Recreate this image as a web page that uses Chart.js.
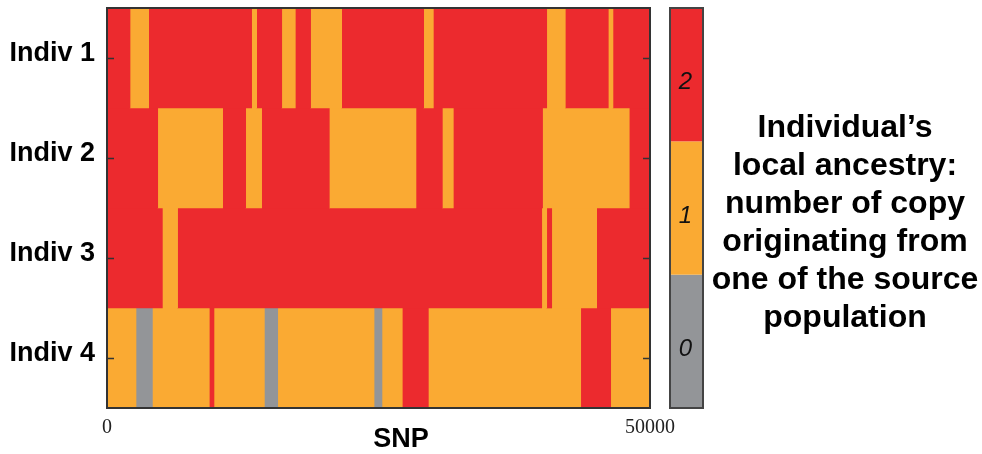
<!DOCTYPE html>
<html>
<head>
<meta charset="utf-8">
<script src="https://cdn.jsdelivr.net/npm/chart.js@4.4.1/dist/chart.umd.min.js"></script>
<style>
  body { margin: 0; background: #fff; }
  #wrap { position: relative; width: 982px; height: 454px; }
  #legendText {
    position: absolute; left: 703px; top: 107px; width: 284px;
    text-align: center; font-family: "Liberation Sans", Arial, sans-serif;
    font-weight: bold; font-size: 32px; line-height: 38px; color: #000;
  }
</style>
</head>
<body>
<div id="wrap">
  <canvas id="myChart" width="982" height="454"></canvas>
  <div id="legendText">Individual’s<br>local ancestry:<br>number of copy<br>originating from<br>one of the source<br>population</div>
</div>
<script>
// individus (lignes)
const indivs = ['Indiv 1', 'Indiv 2', 'Indiv 3', 'Indiv 4']

// bornes des segments (SNP) et nombre de copies pour chaque individu
const indiv1Breaks = [0, 2120, 3840, 13320, 13780, 16090, 17340, 18750, 21610, 29160, 30050, 40490, 42200, 46160, 46590, 50000]
const indiv1Copies = [2, 1, 2, 1, 2, 1, 2, 1, 2, 1, 2, 1, 2, 1, 2]

const indiv2Breaks = [0, 4670, 10650, 12770, 14240, 20470, 28450, 30880, 31890, 40110, 48090, 50000]
const indiv2Copies = [2, 1, 2, 1, 2, 1, 2, 1, 2, 1, 2]

const indiv3Breaks = [0, 5100, 6500, 40030, 40490, 40950, 45090, 50000]
const indiv3Copies = [2, 1, 2, 1, 2, 1, 2]

const indiv4Breaks = [0, 2670, 4180, 9420, 9850, 14490, 15720, 24590, 25320, 27190, 29590, 43620, 46380, 50000]
const indiv4Copies = [1, 0, 1, 2, 1, 0, 1, 0, 1, 2, 1, 2, 1]

// echelle de couleur
const copyLevels = [0, 1, 2]
const copyColors = ['#939598', '#FAAA33', '#EC2A2E']
const xTicks = [0, 50000]

const allBreaks = [indiv1Breaks, indiv2Breaks, indiv3Breaks, indiv4Breaks]
const allCopies = [indiv1Copies, indiv2Copies, indiv3Copies, indiv4Copies]

// un dataset par segment (barres flottantes)
const datasets = []
allBreaks.forEach((breaks, row) => {
  allCopies[row].forEach((c, i) => {
    let d = indivs.map(() => null)
    d[row] = [breaks[i], breaks[i + 1]]
    datasets.push({
      data: d,
      backgroundColor: copyColors[c],
      borderWidth: 0,
      barPercentage: 1,
      categoryPercentage: 1,
      grouped: false
    })
  })
})

// cadre, petits ticks, barre de couleur, titre x
const decor = {
  id: 'decor',
  afterDraw(chart) {
    const ctx = chart.ctx
    const a = chart.chartArea
    const yS = chart.scales.y
    ctx.save()
    ctx.strokeStyle = '#333'
    ctx.lineWidth = 2
    ctx.strokeRect(a.left, a.top, a.right - a.left, a.bottom - a.top)
    ctx.lineWidth = 1.5
    indivs.forEach((n, i) => {
      let y = Math.round(yS.getPixelForValue(i)) + 0.5
      ctx.beginPath()
      ctx.moveTo(a.left, y); ctx.lineTo(a.left + 7, y)
      ctx.moveTo(a.right, y); ctx.lineTo(a.right - 7, y)
      ctx.stroke()
    })

    // colorbar
    const cbL = 670, cbR = 703, cbT = 8, cbB = 408
    const h = (cbB - cbT) / copyLevels.length
    copyLevels.forEach((lv, i) => {
      let top = cbB - (i + 1) * h
      ctx.fillStyle = copyColors[i]
      ctx.fillRect(cbL, top, cbR - cbL, h)
      ctx.fillStyle = '#111'
      ctx.font = 'italic 24px "Liberation Sans", Arial, sans-serif'
      ctx.textAlign = 'center'
      ctx.textBaseline = 'middle'
      ctx.fillText(String(lv), (cbL + cbR) / 2 - 1, top + h / 2 + 8)
    })
    ctx.strokeStyle = '#444'
    ctx.lineWidth = 2
    ctx.strokeRect(cbL, cbT, cbR - cbL, cbB - cbT)

    ctx.fillStyle = '#000'
    ctx.font = 'bold 27px "Liberation Sans", Arial, sans-serif'
    ctx.textAlign = 'center'
    ctx.textBaseline = 'middle'
    ctx.fillText('SNP', 401, 440)
    ctx.restore()
  }
}

new Chart(document.getElementById('myChart'), {
  type: 'bar',
  data: { labels: indivs, datasets: datasets },
  options: {
    indexAxis: 'y',
    responsive: false,
    animation: false,
    devicePixelRatio: 1,
    layout: { autoPadding: false, padding: { left: 0, right: 332, top: 8, bottom: 0 } },
    plugins: { legend: { display: false }, tooltip: { enabled: false } },
    scales: {
      x: {
        type: 'linear',
        min: 0,
        max: 50000,
        grid: { display: false },
        border: { display: false },
        afterBuildTicks: (s) => { s.ticks = xTicks.map(v => ({ value: v })) },
        afterFit: (s) => { s.height = 46; s.paddingLeft = 0; s.paddingRight = 0 },
        ticks: {
          color: '#222',
          padding: 0,
          maxRotation: 0,
          font: { family: '"Liberation Serif", "DejaVu Serif", serif', size: 20 },
          callback: (v) => String(v)
        }
      },
      y: {
        grid: { display: false },
        border: { display: false },
        afterFit: (s) => { s.width = 107; s.paddingTop = 0; s.paddingBottom = 0 },
        ticks: {
          color: '#000',
          padding: 4,
          labelOffset: -4,
          font: { family: '"Liberation Sans", Arial, sans-serif', size: 27, weight: 'bold' }
        }
      }
    }
  },
  plugins: [decor]
})
</script>
</body>
</html>
